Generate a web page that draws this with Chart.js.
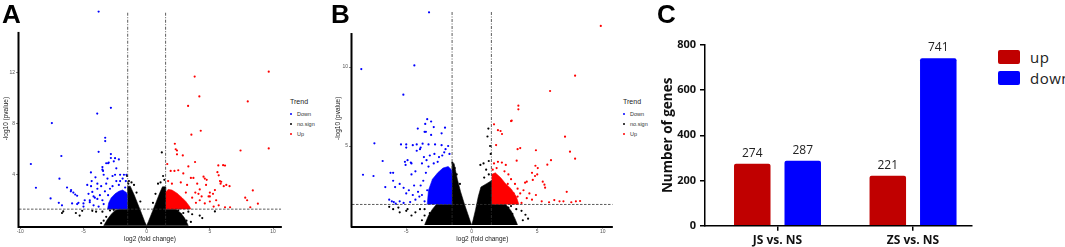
<!DOCTYPE html>
<html>
<head>
<meta charset="utf-8">
<script src="https://cdn.jsdelivr.net/npm/chart.js@4.4.1/dist/chart.umd.min.js"></script>
<style>
  html, body { margin: 0; padding: 0; background: #fff; }
  body { width: 1065px; height: 247px; position: relative; overflow: hidden; font-family: "Liberation Sans", Arial, sans-serif; }
  canvas { position: absolute; top: 0; }
  .tag { position: absolute; top: 1px; font: bold 26px "Liberation Sans", Arial, sans-serif; color: #000; line-height: 1; }
  .trend { position: absolute; color: #222; }
  .trend .t { position: absolute; left: 0; top: 0; font-size: 7px; white-space: nowrap; }
  .trend .row { position: absolute; left: 0; font-size: 5.5px; color: #333; white-space: nowrap; line-height: 6px; }
  .trend .dot { position: absolute; left: 0; top: 2px; width: 2px; height: 2px; border-radius: 1px; }
  .trend .lab { position: absolute; left: 7px; top: 0; }
  .cleg { position: absolute; left: 998px; font: 15px "Open Sans", sans-serif; color: #222; }
  .cleg .sw { position: absolute; left: 0; width: 22px; height: 14px; border-radius: 2px; }
  .cleg .lab { position: absolute; left: 32px; white-space: nowrap; line-height: 14px; letter-spacing: 0.5px; }
</style>
</head>
<body>
<canvas id="cA" width="290" height="247" style="left:0px"></canvas>
<canvas id="cB" width="290" height="247" style="left:332px"></canvas>
<canvas id="cC" width="335" height="247" style="left:655px"></canvas>

<div class="tag" style="left:2px">A</div>
<div class="tag" style="left:331px">B</div>
<div class="tag" style="left:657px">C</div>

<div class="trend" style="left:290px;top:98px">
  <div class="t">Trend</div>
  <div class="row" style="top:13px"><span class="dot" style="background:#0000ff"></span><span class="lab">Down</span></div>
  <div class="row" style="top:23px"><span class="dot" style="background:#000"></span><span class="lab">no.sign</span></div>
  <div class="row" style="top:33px"><span class="dot" style="background:#ff0000"></span><span class="lab">Up</span></div>
</div>
<div class="trend" style="left:623px;top:98px">
  <div class="t">Trend</div>
  <div class="row" style="top:13px"><span class="dot" style="background:#0000ff"></span><span class="lab">Down</span></div>
  <div class="row" style="top:23px"><span class="dot" style="background:#000"></span><span class="lab">no.sign</span></div>
  <div class="row" style="top:33px"><span class="dot" style="background:#ff0000"></span><span class="lab">Up</span></div>
</div>

<div class="cleg" style="top:50px"><span class="sw" style="background:#c00000"></span><span class="lab">up</span></div>
<div class="cleg" style="top:71px"><span class="sw" style="background:#0000ff"></span><span class="lab">down</span></div>

<script>
// ---------------- panel A : volcano, JS vs. NS ----------------
// [log2 fold change, -log10 p]
const aDown = [[-3.8,16.8],[-2.83,9.25],[-3.91,8.8],[-7.5,8.05],[-3.28,6.9],[-3.28,6.64],[-3.8,5.8],[-6.75,5.47],
  [-9.16,4.84],[-2.83,5.62],[-2.83,5.31],[-3.2,4.9],[-3.05,4.9],[-3.5,4.6],[-3.45,4.3],[-4.41,4.18],[-6.9,3.69],
  [-8.76,2.98],[-6.3,3.0],[-7.6,2.14],[-6.95,1.8],[-6.7,1.6],[-5.98,2.8],[-5.8,2.6],[-5.65,2.45],[-5.5,2.35],
  [-5.9,1.75],[-5.4,1.8],[-4.7,3.2],[-4.35,3.5],[-4.05,3.8],[-3.9,3.3],[-3.4,4.0],[-3.1,3.7],[-2.5,4.0],[-2.1,4.0],
  [-1.8,4.0],[-1.6,4.0],[-2.4,3.5],[-2.1,3.5],[-1.9,3.7],[-1.65,3.5],[-4.6,2.5],[-4.3,2.65],[-4.9,2.0],[-4.5,2.0],
  [-3.9,2.9],[-3.6,3.1],[-3.3,2.7],[-3.7,2.4],[-4.1,2.2],[-3.5,2.0],[-4.2,1.6],[-3.8,1.5],[-3.4,1.7],[-5.0,1.5],
  [-2.7,3.1],[-2.2,3.2],[-1.7,3.0],[-3.05,2.4],[-2.5,5.3],[-2.2,5.2],[-2.6,5.05],[-3.0,4.95],[-3.5,4.4],[-2.4,4.5],
  [-2.7,3.9],[-6.0,2.7],[-4.4,3.1],[-5.5,1.7],[-5.0,1.75],[-4.5,1.85],[-4.2,2.3],[-3.9,2.1],[-3.2,3.3],[-2.9,2.9]];
const aNoSign = [[1.2,5.75],[1.3,3.9],[1.4,3.6],[-1.4,3.5],[-1.55,3.9],[-1.45,3.3],[-6.6,1.12],[-5.6,1.0],[-4.3,1.17],
  [-4.0,1.1],[-5.1,1.17],[-6.7,1.0],[-5.3,0.8],[-3.5,1.1],[4.2,0.8],[4.4,0.6],[3.15,0.4],[2.7,0.9],[2.9,1.0],[5.4,1.12],
  [-3.2,0.7],[-3.4,0.4],[-2.9,1.2],[3.3,1.1],[3.6,0.9],[-1.0,3.2],[-1.2,3.4],[0.9,3.3],[1.1,3.4],[-0.8,2.6],[0.7,2.5],
  [-3.6,0.2],[3.5,0.3],[-2.6,1.25],[2.5,1.2],[-0.5,1.9],[0.5,1.8]];
const aUp = [[3.8,11.7],[9.66,12.08],[4.17,10.14],[3.28,9.4],[8.0,9.75],[3.54,7.14],[4.28,7.45],[7.43,5.9],[9.66,6.06],
  [2.23,6.43],[2.3,6.0],[2.4,5.9],[2.86,5.51],[2.4,5.6],[1.63,4.84],[3.3,4.65],[3.83,5.0],[5.67,4.73],[6.05,4.75],
  [6.2,4.72],[5.6,4.2],[5.7,3.95],[4.5,3.85],[4.6,3.7],[4.75,3.6],[5.8,3.5],[5.85,3.3],[6.56,3.1],[6.1,3.1],[8.4,2.77],
  [7.8,2.2],[7.95,2.0],[8.8,1.73],[8.2,1.45],[6.6,1.45],[6.2,1.45],[5.4,2.8],[5.25,2.5],[5.0,2.3],[4.9,2.3],[3.5,3.75],
  [3.7,3.75],[1.9,4.3],[2.2,4.3],[2.5,4.35],[2.9,4.1],[4.0,3.3],[4.2,2.85],[3.85,2.6],[4.1,2.5],[4.35,2.3],[4.7,3.2],
  [5.0,2.6],[5.9,3.45],[6.3,3.2],[4.2,2.0],[4.6,1.75],[5.0,1.9],[5.3,1.5],[5.7,1.6],[5.5,2.0],[3.9,1.8],[3.2,3.2],
  [2.7,3.4],[2.0,3.3],[1.7,3.5],[3.1,2.6],[3.6,2.2]];
// outlines of the dense clouds (upper edges)
const aDownCore = [[-3.1,1.3],[-3.0,1.8],[-2.8,2.2],[-2.5,2.5],[-2.2,2.7],[-1.9,2.8],[-1.6,2.6],[-1.5,2.4]];
const aUpCore = [[1.5,2.6],[1.7,2.85],[2.0,2.8],[2.4,2.55],[2.8,2.2],[3.1,1.9],[3.4,1.5],[3.5,1.3]];
const aCloudL = [[-3.4,0],[-3.1,0.5],[-2.8,0.9],[-2.5,1.2],[-2.2,1.3],[-1.5,1.3],[-1.5,3.1],[-1.3,3.1],[-1.0,2.45],
  [-0.7,1.7],[-0.4,0.95],[-0.15,0.3],[0,0]];
const aCloudR = [[0,0],[0.15,0.35],[0.45,1.1],[0.75,1.85],[1.05,2.6],[1.25,3.05],[1.5,3.05],[1.5,1.3],[2.3,1.3],
  [2.7,1.0],[3.0,0.6],[3.3,0]];
const aXTicks = [-10, -5, 0, 5, 10];
const aYTicks = [4, 8, 12];

// ---------------- panel B : volcano, ZS vs. NS ----------------
const bDown = [[-3.26,13.46],[-8.43,9.87],[-4.38,10.1],[-5.22,8.25],[-3.4,6.7],[-3.1,6.55],[-3.55,6.4],[-2.9,6.2],
  [-4.12,6.1],[-2.04,6.16],[-3.6,5.9],[-3.5,5.9],[-3.1,5.7],[-2.3,5.8],[-7.43,5.17],[-5.0,5.1],[-5.0,4.9],[-4.2,5.1],
  [-3.9,4.9],[-3.75,5.15],[-3.3,5.1],[-2.8,5.1],[-2.3,5.05],[-6.8,4.05],[-4.9,4.1],[-4.65,3.95],[-5.05,3.8],[-8.3,3.18],
  [-7.5,3.1],[-6.6,2.4],[-6.2,3.3],[-6.0,2.8],[-5.85,2.4],[-6.3,1.6],[-6.1,1.5],[-5.95,1.45],[-3.65,4.3],[-3.45,4.1],
  [-3.8,3.9],[-2.85,4.5],[-2.5,4.3],[-2.25,4.4],[-2.1,4.6],[-5.4,5.1],[-4.5,5.05],[-4.2,4.7],[-3.95,4.8],[-6.0,3.3],
  [-5.1,4.0],[-4.6,3.9],[-5.5,2.6],[-5.2,2.35],[-4.8,2.2],[-4.4,2.5],[-4.1,2.1],[-4.5,1.9],[-4.0,1.8],[-5.0,2.0],
  [-5.8,1.35],[-5.5,1.5],[-5.2,1.4],[-4.7,1.45],[-4.3,1.6],[-3.5,3.3],[-3.7,2.8],[-3.9,2.5],[-3.4,2.2],[-4.6,3.2],
  [-4.3,3.4],[-3.2,4.4],[-2.0,4.8],[-1.8,5.0],[-1.7,4.5],[-3.6,1.5],[-3.8,1.9],[-3.3,3.7],[-2.9,3.9],[-2.6,4.0]];
const bNoSign = [[1.27,6.1],[1.2,5.6],[1.3,4.05],[0.9,3.9],[0.66,3.8],[1.1,3.5],[-1.48,3.94],[-1.3,3.6],[3.0,1.2],
  [3.4,1.0],[3.8,0.9],[4.3,0.4],[3.9,0.3],[3.1,0.7],[4.1,0.65],[-3.95,1.0],[-4.3,0.8],[-3.6,0.6],[-4.6,0.6],[-5.0,0.9],
  [-3.8,0.3],[-6.3,1.15],[-5.6,1.1],[1.45,4.5],[1.4,5.0],[-6.0,1.0],[-5.5,0.8],[-4.9,1.0],[-3.6,1.0],[-3.2,0.75],
  [-3.0,0.55],[0.95,3.0],[1.3,3.2],[-0.9,2.6],[-1.15,3.2],[2.8,1.1]];
const bUp = [[9.85,12.6],[7.89,9.45],[5.98,8.48],[3.56,7.55],[3.56,7.32],[3.0,6.58],[2.31,5.76],[7.12,5.59],[7.5,4.64],
  [7.89,4.2],[3.5,4.8],[3.7,4.87],[4.9,4.73],[6.05,4.1],[5.77,3.82],[3.43,4.07],[4.86,3.75],[5.04,3.6],[4.6,3.3],
  [5.0,3.2],[5.42,2.74],[5.55,2.55],[5.6,2.36],[4.07,2.68],[4.2,2.74],[4.66,2.85],[4.83,3.1],[7.25,2.1],[5.34,1.5],
  [5.9,1.44],[6.3,1.58],[6.7,1.5],[7.0,1.5],[7.6,1.44],[7.95,1.5],[8.27,1.52],[2.5,2.2],[2.6,2.4],[2.75,2.6],[3.2,2.0],
  [3.5,1.8],[3.8,1.4],[3.3,1.4],[1.7,6.37],[2.0,6.0],[2.2,5.95],[1.86,5.06],[3.05,6.6],[1.7,3.9],[2.0,4.0],[2.3,3.95],
  [2.6,3.8],[1.9,3.6],[2.5,3.4],[2.8,3.2],[3.0,2.9],[3.3,2.6],[3.5,2.3],[3.7,2.0],[4.2,1.7],[4.4,2.0],[1.6,3.5],
  [3.95,2.2],[4.6,1.6],[4.9,1.9]];
const bDownCore = [[-3.4,1.3],[-3.3,2.2],[-3.0,2.9],[-2.6,3.3],[-2.2,3.6],[-1.8,3.7],[-1.55,3.5],[-1.5,3.2]];
const bUpCore = [[1.5,3.2],[1.8,3.3],[2.2,3.0],[2.6,2.6],[3.0,2.3],[3.4,1.8],[3.6,1.3]];
const bCloudL = [[-3.6,0],[-3.3,0.6],[-3.0,1.0],[-2.7,1.3],[-1.5,1.3],[-1.5,3.9],[-1.35,3.9],[-1.1,2.9],[-0.85,2.1],
  [-0.55,1.3],[-0.3,0.7],[-0.1,0.2],[0,0]];
const bCloudR = [[0,0],[0.1,0.3],[0.3,1.0],[0.5,1.8],[0.7,2.4],[1.1,2.6],[1.5,2.8],[1.5,1.3],[2.6,1.3],[3.0,0.9],
  [3.3,0.4],[3.5,0]];
const bXTicks = [-5, 0, 5, 10];
const bYTicks = [5, 10];

// ---------------- panel C : counts of DEGs ----------------
const groups = ['JS vs. NS', 'ZS vs. NS'];
const upCounts = [274, 221];
const downCounts = [287, 741];
const cYTicks = [0, 200, 400, 600, 800];

// thresholds used for the guide lines
const FC_CUT = 1.5;   // |log2 FC|
const P_CUT = 1.3;    // -log10(0.05)

const BLUE = '#0000ff', RED = '#ff0000', BLACK = '#000000';
const pts = arr => arr.map(([x, y]) => ({ x, y }));

// y axis line of the ggplot panels only runs up to the panel top, not to the outliers
const axisLine = {
  id: 'axisLine',
  afterDatasetsDraw(chart, args, o) {
    const { ctx, scales: { x, y } } = chart;
    const px = Math.round(x.left) - 0.5;
    ctx.save();
    ctx.strokeStyle = '#000';
    ctx.lineWidth = 2;
    ctx.beginPath();
    ctx.moveTo(px, y.bottom + 1);
    ctx.lineTo(px, y.getPixelForValue(o.top));
    ctx.stroke();
    ctx.restore();
  }
};

function volcano(id, d) {
  const dot = (data, color, order) => ({
    type: 'scatter', data: pts(data), backgroundColor: color, borderWidth: 0,
    pointRadius: 1.1, pointHoverRadius: 1.1, order
  });
  const area = (data, color, fill, order) => ({
    type: 'line', data: pts(data), borderColor: color, backgroundColor: color, borderWidth: 0.6,
    pointRadius: 0, tension: 0, fill, order
  });
  const guide = (data, dash) => ({
    type: 'line', data: data, borderColor: '#333', borderWidth: 0.8, borderDash: dash,
    pointRadius: 0, fill: false, order: 0
  });
  return new Chart(document.getElementById(id), {
    type: 'scatter',
    data: {
      datasets: [
        guide([{ x: -FC_CUT, y: 0 }, { x: -FC_CUT, y: d.vTop }], [3, 1.5, 1, 1.5]),
        guide([{ x: FC_CUT, y: 0 }, { x: FC_CUT, y: d.vTop }], [3, 1.5, 1, 1.5]),
        guide([{ x: d.xMin, y: P_CUT }, { x: d.xMax, y: P_CUT }], [2.5, 1.5]),
        dot(d.nosign, BLACK, 1),
        dot(d.down, BLUE, 1),
        dot(d.up, RED, 1),
        area(d.downCore, BLUE, { value: P_CUT }, 2),
        area(d.upCore, RED, { value: P_CUT }, 2),
        area(d.cloudL, BLACK, 'origin', 3),
        area(d.cloudR, BLACK, 'origin', 3)
      ]
    },
    options: {
      responsive: false, animation: false, events: [],
      layout: { padding: { top: d.padTop, right: d.padRight, left: 0, bottom: 0 } },
      plugins: { legend: { display: false }, tooltip: { enabled: false }, axisLine: { top: d.axisTop } },
      scales: {
        x: {
          type: 'linear', min: d.xMin, max: d.xMax,
          afterBuildTicks: s => { s.ticks = d.xTicks.map(v => ({ value: v })); },
          afterFit: s => { s.height = d.xH; },
          grid: { drawOnChartArea: false, tickLength: 2, color: '#555', lineWidth: 0.7 },
          border: { display: true, color: '#000', width: 2 },
          ticks: { font: { size: 5, family: 'Liberation Sans' }, color: '#555', padding: 0, autoSkip: false, maxRotation: 0 },
          title: { display: true, text: 'log2 (fold change)', color: '#222',
                   font: { size: 6.5, family: 'Liberation Sans' }, padding: { top: 0, bottom: 4 } }
        },
        y: {
          type: 'linear', min: d.yMin, max: d.yMax,
          afterBuildTicks: s => { s.ticks = d.yTicks.map(v => ({ value: v })); },
          afterFit: s => { s.width = d.yW; },
          grid: { drawOnChartArea: false, tickLength: 3, color: '#555', lineWidth: 0.7 },
          border: { display: false },
          ticks: { font: { size: 5, family: 'Liberation Sans' }, color: '#555', padding: 1, autoSkip: false },
          title: { display: true, text: '-log10 (pvalue)', color: '#222',
                   font: { size: 6.5, family: 'Liberation Sans' }, padding: { top: 2, bottom: 0 } }
        }
      }
    },
    plugins: [axisLine]
  });
}

volcano('cA', {
  down: aDown, nosign: aNoSign, up: aUp, downCore: aDownCore, upCore: aUpCore, cloudL: aCloudL, cloudR: aCloudR,
  xTicks: aXTicks, yTicks: aYTicks, xMin: -10.1, xMax: 10.63, yMin: -0.1, yMax: 16.9,
  vTop: 16.8, axisTop: 15.2, padTop: 10.25, padRight: 9, xH: 20, yW: 19
});
volcano('cB', {
  down: bDown, nosign: bNoSign, up: bUp, downCore: bDownCore, upCore: bUpCore, cloudL: bCloudL, cloudR: bCloudR,
  xTicks: bXTicks, yTicks: bYTicks, xMin: -9.14, xMax: 10.76, yMin: -0.1, yMax: 13.6,
  vTop: 13.5, axisTop: 12.15, padTop: 10.12, padRight: 9.3, xH: 20.42, yW: 20
});

// numbers above the bars
const barValues = {
  id: 'barValues',
  afterDatasetsDraw(chart) {
    const ctx = chart.ctx;
    ctx.save();
    ctx.font = '12px "Open Sans"';
    ctx.fillStyle = '#222';
    ctx.textAlign = 'center';
    ctx.textBaseline = 'alphabetic';
    chart.data.datasets.forEach((ds, i) => {
      chart.getDatasetMeta(i).data.forEach((bar, j) => {
        ctx.fillText(String(ds.data[j].y), bar.x, bar.y - 7);
      });
    });
    ctx.restore();
  }
};

new Chart(document.getElementById('cC'), {
  type: 'bar',
  data: {
    datasets: [
      { label: 'up', data: groups.map((g, i) => ({ x: i, y: upCounts[i] })), backgroundColor: '#c00000',
        borderRadius: 2, categoryPercentage: 0.745, barPercentage: 0.723 },
      { label: 'down', data: groups.map((g, i) => ({ x: i, y: downCounts[i] })), backgroundColor: '#0000ff',
        borderRadius: 2, categoryPercentage: 0.745, barPercentage: 0.723 }
    ]
  },
  options: {
    responsive: false, animation: false, events: [],
    layout: { padding: { top: 45, right: 18, left: 0, bottom: 0 } },
    plugins: { legend: { display: false }, tooltip: { enabled: false } },
    scales: {
      x: {
        type: 'linear', min: -0.535, max: 1.435, offset: false,
        afterBuildTicks: s => { s.ticks = groups.map((g, i) => ({ value: i })); },
        afterFit: s => { s.height = 21.3; },
        grid: { drawOnChartArea: false, offset: false, tickLength: 5, color: '#000', lineWidth: 1.5 },
        border: { color: '#000', width: 1.5 },
        ticks: { callback: v => groups[v], font: { size: 12, weight: 'bold', family: 'Open Sans' },
                 color: '#111', padding: 3, autoSkip: false, maxRotation: 0 }
      },
      y: {
        min: 0, max: 800,
        afterBuildTicks: s => { s.ticks = cYTicks.map(v => ({ value: v })); },
        afterFit: s => { s.width = 50; },
        grid: { drawOnChartArea: false, tickLength: 5, color: '#000', lineWidth: 1.5 },
        border: { color: '#000', width: 1.5 },
        ticks: { font: { size: 11, weight: 'bold', family: 'Open Sans' }, color: '#111', padding: 4 },
        title: { display: true, text: 'Number of genes', color: '#111',
                 font: { size: 13.5, weight: 'bold', family: 'Open Sans' }, padding: { top: 5, bottom: 0 } }
      }
    }
  },
  plugins: [barValues]
});
</script>
</body>
</html>
